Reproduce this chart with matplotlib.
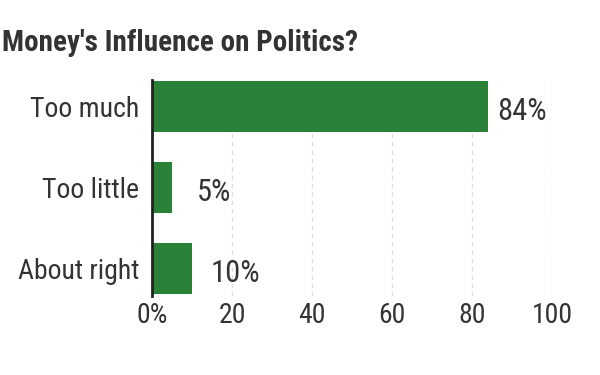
import matplotlib
matplotlib.use("Agg")
import matplotlib.pyplot as plt

categories = ["Too much", "Too little", "About right"]
values = [84, 5, 10]
value_labels = ["84%", "5%", "10%"]
xticks = [0, 20, 40, 60, 80, 100]
xtick_labels = ["0%", "20", "40", "60", "80", "100"]
title = "Money's Influence on Politics?"

plt.rcParams["font.family"] = ["Roboto Condensed", "DejaVu Sans"]

txt = "#333333"
bar_color = "#2a8138"

fig = plt.figure(figsize=(6, 3.75), dpi=100)
ax = fig.add_axes([152/600, 1 - 296/375, 400/600, 216/375])

ypos = list(range(len(categories)))
ax.barh(ypos, values, height=0.63, color=bar_color, zorder=2)
ax.set_ylim(2.34, -0.33)
ax.set_xlim(0, 100)

offsets = [9, 25, 19]
for y, v, lab, off in zip(ypos, values, value_labels, offsets):
    ax.annotate(lab, xy=(v, y), xytext=(off * 0.72, -13.5 * 0.72), textcoords="offset points",
                ha="left", va="baseline", fontsize=22, color=txt)

ax.set_xticks(xticks)
ax.set_xticklabels(xtick_labels, fontsize=20, color=txt)
ax.set_yticks(ypos)
ax.set_yticklabels(categories, fontsize=20, color=txt)
ax.tick_params(axis="y", length=0, pad=9)
ax.tick_params(axis="x", length=0, pad=4)

ax.xaxis.grid(True, color="#dddddd", linestyle=(0, (3, 3)), linewidth=1, zorder=0)
ax.set_axisbelow(True)
for s in ["top", "right", "bottom"]:
    ax.spines[s].set_visible(False)
ax.spines["left"].set_color("#222222")
ax.spines["left"].set_linewidth(2)
ax.spines["left"].set_zorder(3)

fig.text(2/600, 1 - 51/375, title, fontsize=21, fontweight="bold", color=txt,
         ha="left", va="baseline")

fig.savefig("out.png", dpi=100)
